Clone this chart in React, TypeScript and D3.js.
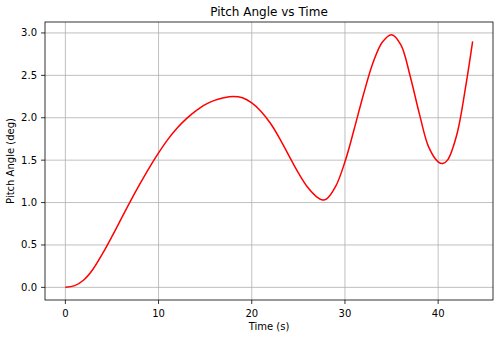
import React from "react";
import * as d3 from "d3";

// values
const timeS = [
  0, 1, 2, 3, 4, 5, 6, 7, 8, 9, 10, 11, 12, 13, 14, 15, 16, 17, 18, 19, 20,
  21, 22, 23, 24, 25, 26, 27, 27.6, 28, 29, 30, 31, 32, 33, 34, 35, 36, 37,
  38, 39, 40, 40.5, 41, 42, 43, 43.7,
];
const pitchDeg = [
  0.0, 0.02, 0.09, 0.22, 0.4, 0.6, 0.81, 1.02, 1.22, 1.41, 1.585, 1.745, 1.88,
  1.99, 2.08, 2.155, 2.205, 2.235, 2.25, 2.235, 2.175, 2.075, 1.935, 1.755,
  1.55, 1.35, 1.18, 1.065, 1.03, 1.04, 1.19, 1.48, 1.87, 2.28, 2.645, 2.89,
  2.98, 2.86, 2.49, 2.04, 1.65, 1.48, 1.46, 1.5, 1.8, 2.4, 2.9,
];
const xTicks = [0, 10, 20, 30, 40];
const yTicks = [0, 0.5, 1, 1.5, 2, 2.5, 3];

const W = 500;
const H = 340;
const margin = { top: 22, right: 7, bottom: 40, left: 45 };
const font = "DejaVu Sans, sans-serif";

export default function App() {
  const points = timeS.map((t, i) => ({ t, v: pitchDeg[i] }));

  // matplotlib-style 5% autoscale margins
  const [tMin, tMax] = d3.extent(timeS) as [number, number];
  const [vMin, vMax] = d3.extent(pitchDeg) as [number, number];
  const tPad = (tMax - tMin) * 0.05;
  const vPad = (vMax - vMin) * 0.05;

  const x = d3
    .scaleLinear()
    .domain([tMin - tPad, tMax + tPad])
    .range([margin.left, W - margin.right]);
  const y = d3
    .scaleLinear()
    .domain([vMin - vPad, vMax + vPad])
    .range([H - margin.bottom, margin.top]);

  const line = d3
    .line<{ t: number; v: number }>()
    .x((d) => x(d.t))
    .y((d) => y(d.v))
    .curve(d3.curveCatmullRom.alpha(0.5));

  const x0 = margin.left;
  const x1 = W - margin.right;
  const y0 = H - margin.bottom;
  const y1 = margin.top;
  const gridColor = "#b0b0b0";

  return (
    <svg
      width={W}
      height={H}
      style={{ position: "absolute", left: 0, top: 0, background: "#fff" }}
      fontFamily={font}
    >
      <rect x={0} y={0} width={W} height={H} fill="#fff" />

      {/* grid */}
      {xTicks.map((t) => (
        <line
          key={"gx" + t}
          x1={x(t)}
          x2={x(t)}
          y1={y0}
          y2={y1}
          stroke={gridColor}
          strokeWidth={0.8}
        />
      ))}
      {yTicks.map((v) => (
        <line
          key={"gy" + v}
          x1={x0}
          x2={x1}
          y1={y(v)}
          y2={y(v)}
          stroke={gridColor}
          strokeWidth={0.8}
        />
      ))}

      {/* data */}
      <path
        d={line(points) || ""}
        fill="none"
        stroke="red"
        strokeWidth={1.5}
        strokeLinejoin="round"
      />

      {/* frame */}
      <rect
        x={x0}
        y={y1}
        width={x1 - x0}
        height={y0 - y1}
        fill="none"
        stroke="#000"
        strokeWidth={0.8}
      />

      {/* x axis ticks */}
      {xTicks.map((t) => (
        <g key={"xt" + t}>
          <line x1={x(t)} x2={x(t)} y1={y0} y2={y0 + 4} stroke="#000" strokeWidth={0.8} />
          <text x={x(t)} y={y0 + 17} fontSize={10} textAnchor="middle" fill="#000">
            {d3.format("d")(t)}
          </text>
        </g>
      ))}

      {/* y axis ticks */}
      {yTicks.map((v) => (
        <g key={"yt" + v}>
          <line x1={x0 - 4} x2={x0} y1={y(v)} y2={y(v)} stroke="#000" strokeWidth={0.8} />
          <text
            x={x0 - 8}
            y={y(v)}
            fontSize={10}
            textAnchor="end"
            dominantBaseline="central"
            fill="#000"
          >
            {d3.format(".1f")(v)}
          </text>
        </g>
      ))}

      {/* labels */}
      <text x={(x0 + x1) / 2} y={330} fontSize={10} textAnchor="middle" fill="#000">
        Time (s)
      </text>
      <text
        transform={`translate(14, ${(y0 + y1) / 2}) rotate(-90)`}
        fontSize={10}
        textAnchor="middle"
        fill="#000"
      >
        Pitch Angle (deg)
      </text>
      <text x={(x0 + x1) / 2} y={16} fontSize={12} textAnchor="middle" fill="#000">
        Pitch Angle vs Time
      </text>
    </svg>
  );
}
